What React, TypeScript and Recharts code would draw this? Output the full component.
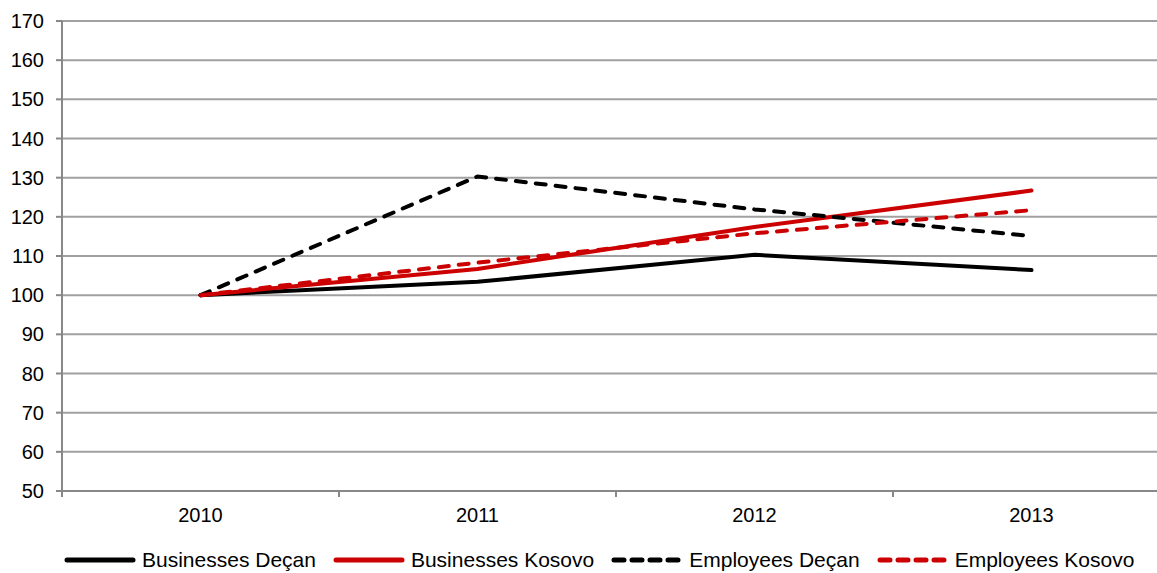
import { LineChart, Line, XAxis, YAxis, CartesianGrid, Legend } from "recharts";

const years = ["2010", "2011", "2012", "2013"];
const businessesDecan = [100, 103.4, 110.3, 106.4];
const businessesKosovo = [100, 106.7, 117.4, 126.7];
const employeesDecan = [100, 130.3, 121.9, 115.1];
const employeesKosovo = [100, 108.3, 115.8, 121.7];
const yTicks = [50, 60, 70, 80, 90, 100, 110, 120, 130, 140, 150, 160, 170];

const data = years.map((year, i) => ({
  year,
  bd: businessesDecan[i],
  bk: businessesKosovo[i],
  ed: employeesDecan[i],
  ek: employeesKosovo[i],
}));

const FONT = "'Liberation Sans', Arial, sans-serif";
const RED = "#cc0000";
const CHART_W = 1170;
const AXIS_W = 62;
const BAND = (CHART_W - AXIS_W) / years.length;

const series = [
  { key: "bd", name: "Businesses Deçan", color: "#000", dash: undefined },
  { key: "bk", name: "Businesses Kosovo", color: RED, dash: undefined },
  { key: "ed", name: "Employees Deçan", color: "#000", dash: "10 10" },
  { key: "ek", name: "Employees Kosovo", color: RED, dash: "10 10" },
];

function YearTick({ x, y, payload }: any) {
  return (
    <g>
      <line x1={x - BAND / 2} y1={y - 17} x2={x - BAND / 2} y2={y - 11} stroke="#888" strokeWidth={2} />
      <text x={x} y={y} dy="0.71em" textAnchor="middle" fontSize={20} fontFamily={FONT} fill="#000">
        {payload.value}
      </text>
    </g>
  );
}

function ChartLegend() {
  return (
    <div style={{ display: "flex", alignItems: "center", fontFamily: FONT, fontSize: 21 }}>
      {series.map((s) => (
        <div key={s.key} style={{ display: "flex", alignItems: "center", marginRight: 17 }}>
          <svg width={72} height={10}>
            <line
              x1={3}
              y1={5}
              x2={69}
              y2={5}
              stroke={s.color}
              strokeWidth={5}
              strokeLinecap="round"
              strokeDasharray={s.dash ? "10 8" : undefined}
            />
          </svg>
          <span style={{ marginLeft: 6, color: "#000" }}>{s.name}</span>
        </div>
      ))}
    </div>
  );
}

export default function App() {
  return (
    <div style={{ position: "absolute", left: 0, top: 0, width: 1157, height: 573, overflow: "hidden", background: "#fff" }}>
      <LineChart width={CHART_W} height={573} data={data} margin={{ top: 21, right: 0, bottom: 28, left: 0 }}>
        <CartesianGrid vertical={false} stroke="#a0a0a0" strokeWidth={2} />
        <XAxis
          dataKey="year"
          stroke="#888"
          strokeWidth={2}
          tickLine={false}
          tick={<YearTick />}
          tickMargin={11}
          interval={0}
          padding={{ left: BAND / 2, right: BAND / 2 }}
        />
        <YAxis
          domain={[50, 170]}
          ticks={yTicks}
          width={AXIS_W}
          stroke="#888"
          strokeWidth={2}
          tickSize={6}
          tickMargin={12}
          interval={0}
          tick={{ fontSize: 20, fontFamily: FONT, fill: "#000" }}
        />
        {series.map((s) => (
          <Line
            key={s.key}
            dataKey={s.key}
            name={s.name}
            stroke={s.color}
            strokeWidth={4}
            strokeDasharray={s.dash}
            strokeLinecap="round"
            dot={false}
            activeDot={false}
            isAnimationActive={false}
          />
        ))}
        <Legend content={<ChartLegend />} wrapperStyle={{ left: 64, top: 548, width: 1100 }} />
      </LineChart>
    </div>
  );
}
